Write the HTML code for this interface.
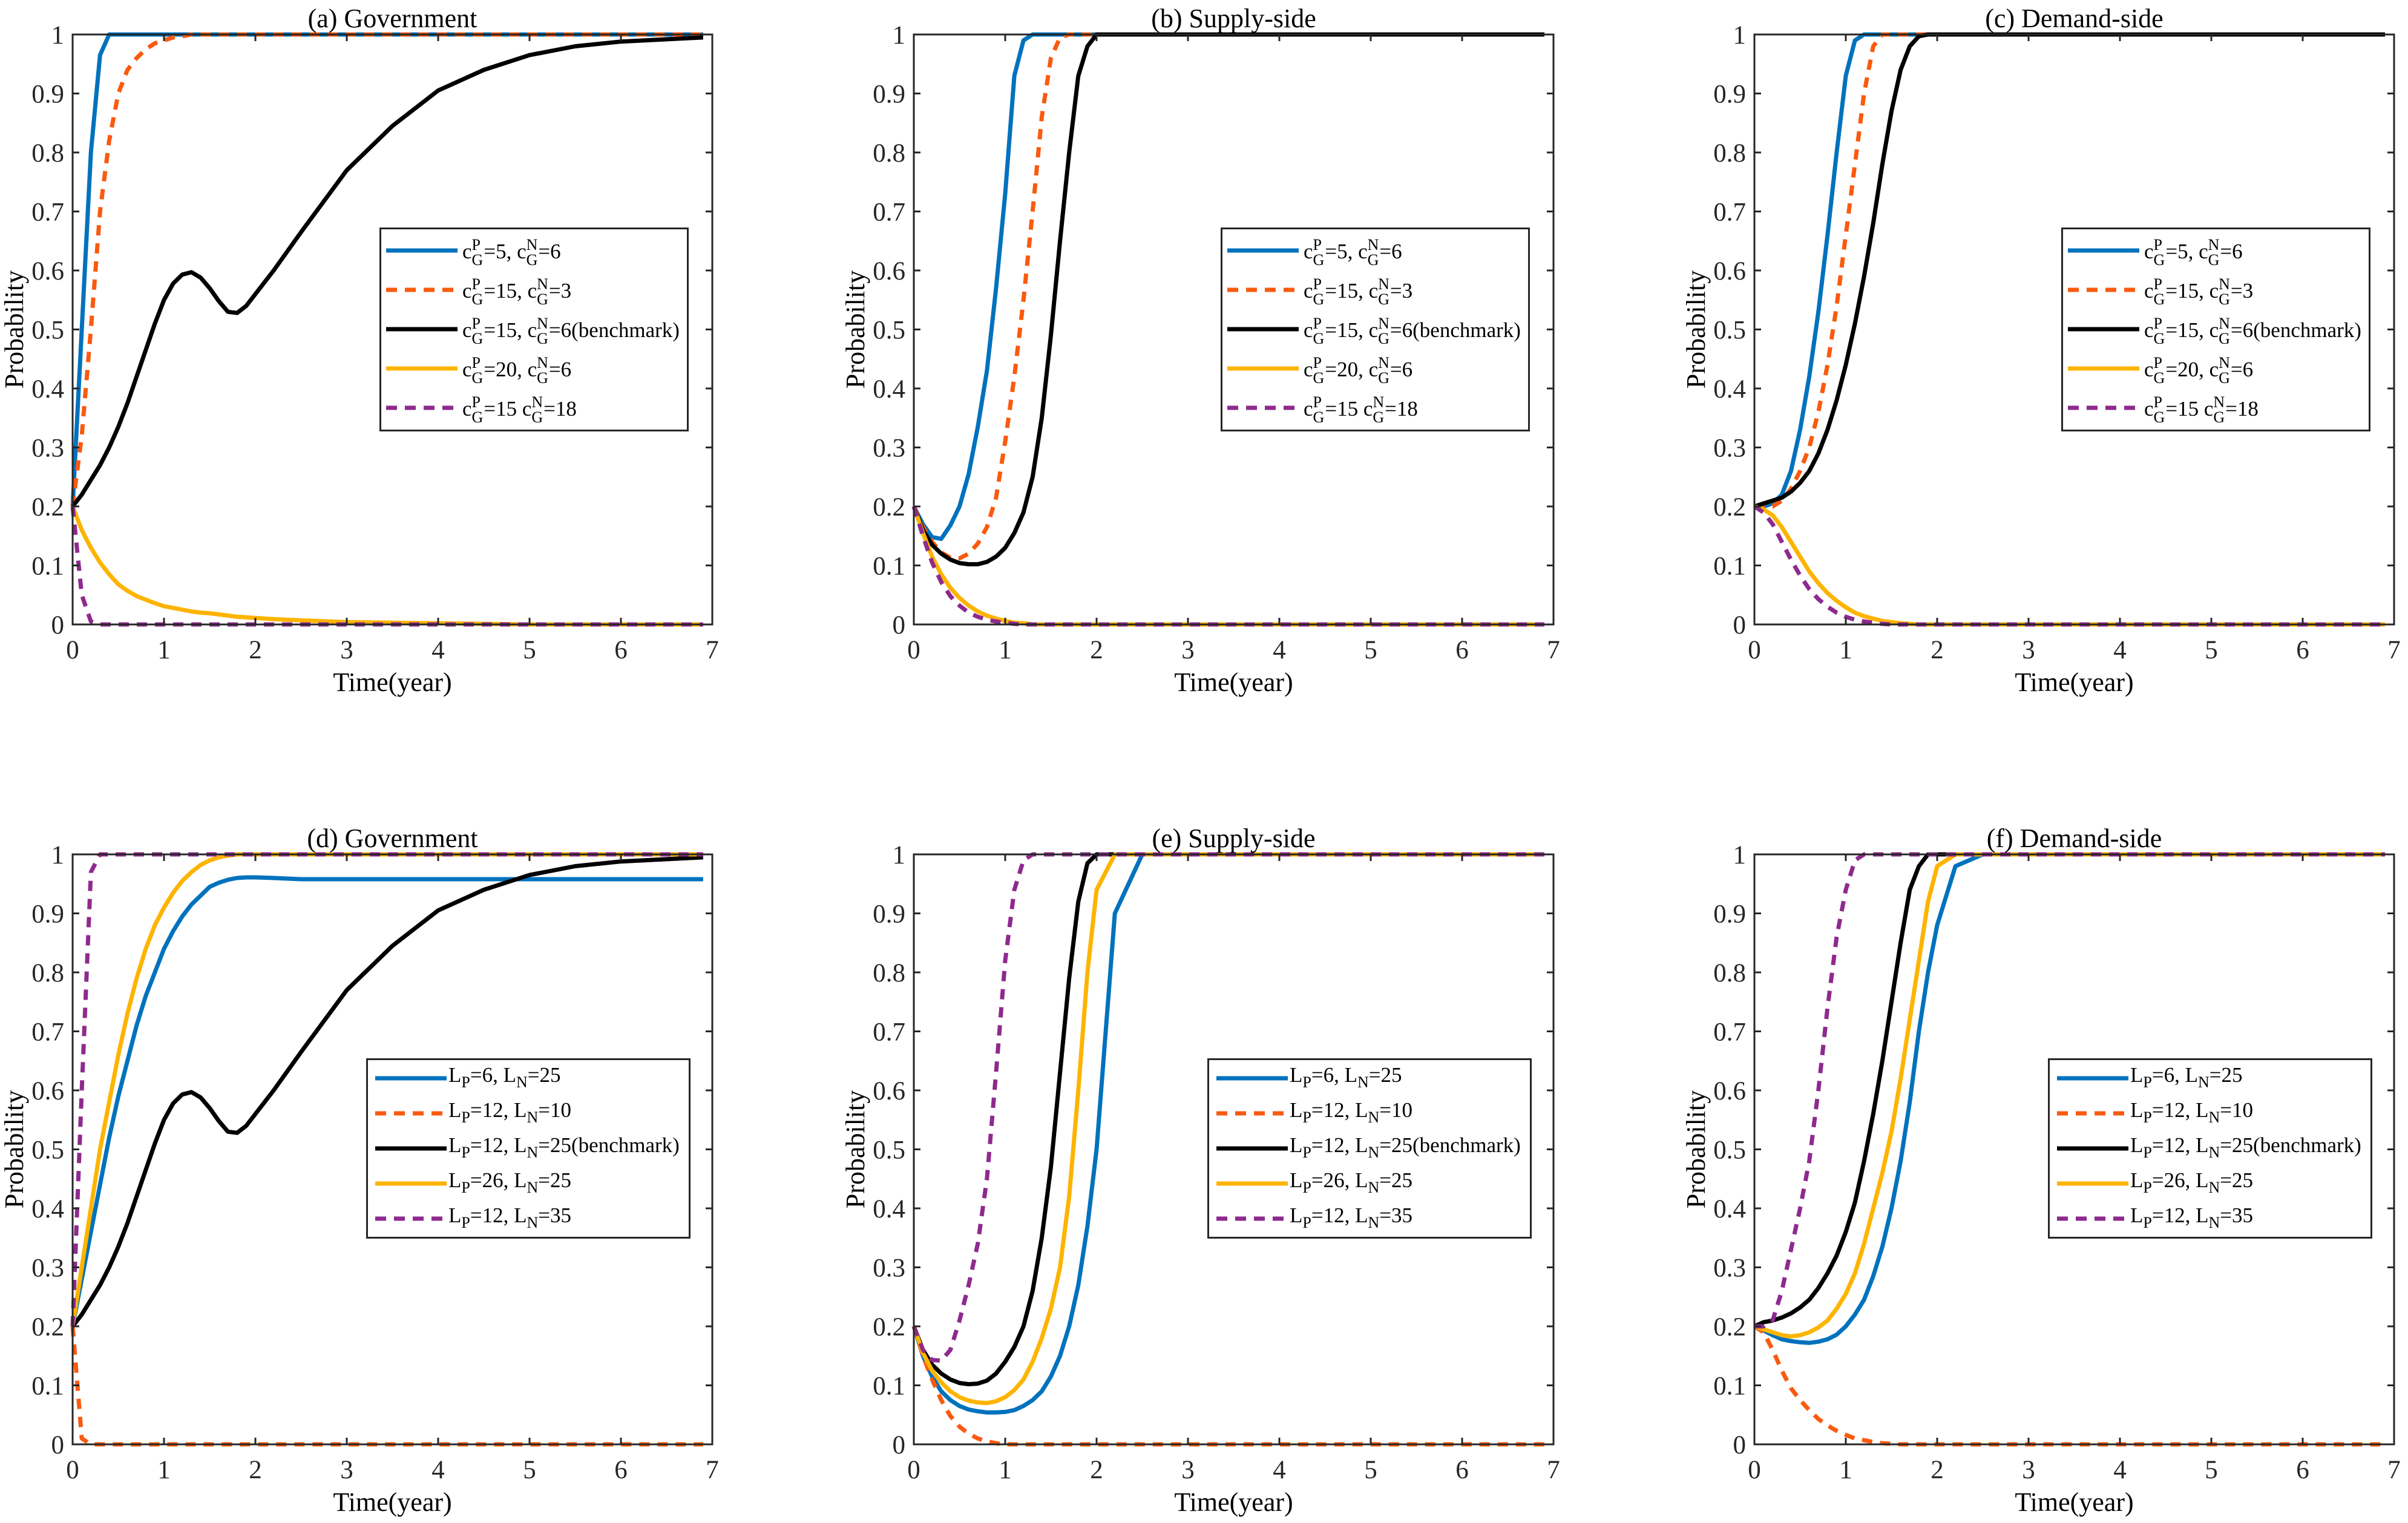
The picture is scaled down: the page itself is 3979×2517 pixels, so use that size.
<!DOCTYPE html>
<html><head><meta charset="utf-8">
<style>
html,body{margin:0;padding:0;background:#fff;}
#wrap{position:relative;width:3979px;height:2517px;overflow:hidden;font-family:"Liberation Serif",serif;color:#000;}
svg{position:absolute;left:0;top:0;}
.leg{position:absolute;border:3px solid #262626;background:#fff;box-sizing:border-box;}
.row{position:absolute;left:0;height:0;}
.row svg{position:absolute;left:0;top:-10px;}
.lt{position:absolute;white-space:nowrap;font-size:35px;line-height:1;}
.st{display:inline-block;vertical-align:middle;line-height:1;font-size:26px;text-align:left;margin:0 1px 0 0;position:relative;top:-2px;}
.st span{display:block;height:25px;}
.sb{font-size:26px;position:relative;top:9px;}
</style></head>
<body>
<div id="wrap">
<svg id="plot" width="3979" height="2517"></svg>
</div>
<script>
const T = [0,.1,.2,.3,.4,.5,.6,.7,.8,.9,1,1.1,1.2,1.3,1.4,1.5,1.6,1.7,1.8,1.9,2,2.2,2.5,3,3.5,4,4.5,5,5.5,6,6.9];
const xTicks = [0,1,2,3,4,5,6,7];
const yTicks = [0,0.1,0.2,0.3,0.4,0.5,0.6,0.7,0.8,0.9,1];
const yTickLabels = ["0","0.1","0.2","0.3","0.4","0.5","0.6","0.7","0.8","0.9","1"];
const panelTitles = ["(a) Government","(b) Supply-side","(c) Demand-side","(d) Government","(e) Supply-side","(f) Demand-side"];
const legendTop = [["5","6"],["15","3"],["15","6(benchmark)"],["20","6"],["15","18"]];
const legendBottom = [["6","25"],["12","10"],["12","25(benchmark)"],["26","25"],["12","35"]];

// (a) Government
const aBlue   = [.2,.5,.8,.965,1,1,1,1,1,1, 1,1,1,1,1,1,1,1,1,1, 1,1,1,1,1,1,1,1,1,1,1];
const aOrange = [.2,.32,.5,.7,.82,.9,.94,.96,.975,.985, .99,.995,.997,1,1,1,1,1,1,1, 1,1,1,1,1,1,1,1,1,1,1];
const aBlack  = [.2,.22,.245,.27,.3,.335,.375,.42,.465,.51, .55,.578,.593,.597,.588,.57,.548,.53,.528,.54, .56,.6,.665,.77,.845,.905,.94,.965,.98,.988,.995];
const aYellow = [.2,.16,.13,.105,.085,.068,.057,.048,.042,.036, .031,.028,.025,.022,.02,.019,.017,.015,.013,.012, .011,.009,.007,.004,.003,.002,.001,0,0,0,0];
const aPurple = [.2,.05,.005,0,0,0,0,0,0,0, 0,0,0,0,0,0,0,0,0,0, 0,0,0,0,0,0,0,0,0,0,0];
// (b) Supply-side
const bBlue   = [.2,.17,.148,.145,.168,.2,.255,.335,.43,.57, .73,.93,.99,1,1,1,1,1,1,1, 1,1,1,1,1,1,1,1,1,1,1];
const bOrange = [.2,.165,.14,.122,.113,.112,.12,.137,.165,.215, .31,.42,.55,.7,.86,.96,.995,1,1,1, 1,1,1,1,1,1,1,1,1,1,1];
const bBlack  = [.2,.16,.135,.12,.11,.104,.102,.102,.106,.115, .13,.155,.19,.25,.35,.49,.65,.8,.93,.98, 1,1,1,1,1,1,1,1,1,1,1];
const bYellow = [.2,.155,.115,.085,.062,.045,.032,.022,.015,.01, .006,.003,.002,0,0,0,0,0,0,0, 0,0,0,0,0,0,0,0,0,0,0];
const bPurple = [.2,.15,.105,.072,.048,.032,.02,.013,.008,.005, .003,.001,0,0,0,0,0,0,0,0, 0,0,0,0,0,0,0,0,0,0,0];
// (c) Demand-side
const cBlue   = [.2,.2,.205,.22,.26,.33,.42,.53,.66,.8, .93,.99,1,1,1,1,1,1,1,1, 1,1,1,1,1,1,1,1,1,1,1];
const cOrange = [.2,.2,.2,.21,.23,.26,.3,.36,.44,.54, .66,.78,.9,.98,1,1,1,1,1,1, 1,1,1,1,1,1,1,1,1,1,1];
const cBlack  = [.2,.205,.21,.215,.225,.24,.26,.29,.33,.38, .44,.51,.59,.68,.78,.87,.94,.98,.997,1, 1,1,1,1,1,1,1,1,1,1,1];
const cYellow = [.2,.195,.185,.165,.14,.115,.09,.07,.053,.04, .029,.02,.014,.01,.006,.004,.002,.001,0,0, 0,0,0,0,0,0,0,0,0,0,0];
const cPurple = [.2,.19,.17,.14,.11,.083,.06,.043,.03,.02, .013,.008,.005,.003,.001,0,0,0,0,0, 0,0,0,0,0,0,0,0,0,0,0];
// (d) Government
const dBlue   = [.2,.28,.36,.44,.52,.59,.65,.71,.76,.8, .84,.87,.895,.915,.93,.945,.952,.957,.96,.961, .961,.96,.958,.958,.958,.958,.958,.958,.958,.958,.958];
const dOrange = [.2,.01,0,0,0,0,0,0,0,0, 0,0,0,0,0,0,0,0,0,0, 0,0,0,0,0,0,0,0,0,0,0];
const dBlack  = [.2,.22,.245,.27,.3,.335,.375,.42,.465,.51, .55,.578,.593,.597,.588,.57,.548,.53,.528,.54, .56,.6,.665,.77,.845,.905,.94,.965,.98,.988,.995];
const dYellow = [.2,.3,.4,.5,.58,.66,.73,.79,.84,.88, .91,.935,.955,.97,.982,.99,.995,.998,1,1, 1,1,1,1,1,1,1,1,1,1,1];
const dPurple = [.2,.6,.97,1,1,1,1,1,1,1, 1,1,1,1,1,1,1,1,1,1, 1,1,1,1,1,1,1,1,1,1,1];
// (e) Supply-side
const eBlue   = [.2,.15,.115,.09,.075,.065,.059,.056,.054,.054, .055,.058,.065,.075,.09,.115,.15,.2,.27,.37, .5,.9,1,1,1,1,1,1,1,1,1];
const eOrange = [.2,.15,.11,.075,.048,.03,.018,.01,.005,.002, 0,0,0,0,0,0,0,0,0,0, 0,0,0,0,0,0,0,0,0,0,0];
const eBlack  = [.2,.16,.135,.12,.11,.104,.102,.103,.108,.12, .14,.165,.2,.26,.35,.47,.63,.79,.92,.985, 1,1,1,1,1,1,1,1,1,1,1];
const eYellow = [.2,.155,.125,.105,.09,.08,.074,.071,.07,.073, .08,.092,.11,.14,.18,.23,.3,.42,.6,.8, .94,1,1,1,1,1,1,1,1,1,1];
const ePurple = [.2,.16,.143,.142,.16,.21,.27,.34,.45,.63, .82,.94,.99,1,1,1,1,1,1,1, 1,1,1,1,1,1,1,1,1,1,1];
// (f) Demand-side
const fBlue   = [.2,.193,.185,.178,.175,.173,.172,.174,.178,.186, .2,.22,.245,.285,.335,.4,.48,.58,.7,.8, .88,.98,1,1,1,1,1,1,1,1,1];
const fOrange = [.2,.19,.16,.125,.095,.075,.058,.043,.032,.023, .016,.01,.007,.004,.002,.001,0,0,0,0, 0,0,0,0,0,0,0,0,0,0,0];
const fBlack  = [.2,.207,.21,.215,.222,.232,.245,.265,.29,.32, .36,.41,.48,.56,.65,.75,.85,.94,.98,1, 1,1,1,1,1,1,1,1,1,1,1];
const fYellow = [.2,.195,.19,.185,.183,.185,.19,.198,.21,.23, .255,.29,.34,.4,.46,.53,.62,.72,.82,.92, .98,1,1,1,1,1,1,1,1,1,1];
const fPurple = [.2,.2,.21,.26,.33,.4,.48,.6,.74,.86, .94,.99,1,1,1,1,1,1,1,1, 1,1,1,1,1,1,1,1,1,1,1];

const panelSeries = [
  [aBlue,aOrange,aBlack,aYellow,aPurple],
  [bBlue,bOrange,bBlack,bYellow,bPurple],
  [cBlue,cOrange,cBlack,cYellow,cPurple],
  [dBlue,dOrange,dBlack,dYellow,dPurple],
  [eBlue,eOrange,eBlack,eYellow,ePurple],
  [fBlue,fOrange,fBlack,fYellow,fPurple]
];
const seriesNames = ["blue","orange","black","yellow","purple"];
const COLORS = ["#0072BD","#FA5A0F","#000000","#FDB400","#8E2A8E"];
const DASHED = [false,true,false,false,true];

const NS = "http://www.w3.org/2000/svg";
const svg = document.getElementById("plot");
const wrap = document.getElementById("wrap");
const LEFTS = [120,1510,2899], TOPS = [57,1412], W = 1057, H = 975;
const AX = "#262626";

function mk(tag, attrs, parent){
  const e = document.createElementNS(NS, tag);
  for (const k in attrs) e.setAttribute(k, attrs[k]);
  (parent||svg).appendChild(e);
  return e;
}

for (let p = 0; p < 6; p++) {
  const L = LEFTS[p % 3], Tp = TOPS[Math.floor(p / 3)];
  const xs = v => L + v / 7 * W;
  const ys = v => Tp + H - v * H;
  const g = mk("g", {});
  
  

  panelSeries[p].forEach((vals, s) => {
    const pts = T.map((t, i) => xs(t).toFixed(1) + "," + ys(vals[i]).toFixed(1)).join(" ");
    const pl = mk("polyline", {points: pts, fill: "none", stroke: COLORS[s], "stroke-width": 7,
      "stroke-linejoin": "round", "stroke-dasharray": DASHED[s] ? "17 13" : "none"}, g);
    
    
  });

  const box = mk("rect", {x: L, y: Tp, width: W, height: H, fill: "none", stroke: AX, "stroke-width": 3}, g);
  
  

  xTicks.forEach(v => {
    const x = xs(v);
    mk("line", {x1: x, y1: Tp + H, x2: x, y2: Tp + H - 11, stroke: AX, "stroke-width": 3}, g);
    mk("line", {x1: x, y1: Tp, x2: x, y2: Tp + 11, stroke: AX, "stroke-width": 3}, g);
    const t = mk("text", {x: x, y: Tp + H + 56, "text-anchor": "middle", "font-size": 43, fill: AX, "font-family": "Liberation Serif, serif"}, g);
    t.textContent = String(v);
    
    
  });
  yTicks.forEach((v, i) => {
    const y = ys(v);
    mk("line", {x1: L, y1: y, x2: L + 11, y2: y, stroke: AX, "stroke-width": 3}, g);
    mk("line", {x1: L + W, y1: y, x2: L + W - 11, y2: y, stroke: AX, "stroke-width": 3}, g);
    const t = mk("text", {x: L - 14, y: y + 15, "text-anchor": "end", "font-size": 43, fill: AX, "font-family": "Liberation Serif, serif"}, g);
    t.textContent = yTickLabels[i];
    
    
  });
  const tt = mk("text", {x: L + W / 2, y: Tp - 12, "text-anchor": "middle", "font-size": 44, fill: "#000", "font-family": "Liberation Serif, serif"}, g);
  tt.textContent = panelTitles[p];
  
  
  const xl = mk("text", {x: L + W / 2, y: Tp + H + 110, "text-anchor": "middle", "font-size": 44, fill: "#000", "font-family": "Liberation Serif, serif"}, g);
  xl.textContent = "Time(year)";
  
  
  const yl = mk("text", {x: 0, y: 0, "text-anchor": "middle", "font-size": 44, fill: "#000", "font-family": "Liberation Serif, serif",
    transform: "translate(" + (L - 82) + "," + (Tp + H / 2) + ") rotate(-90)"}, g);
  yl.textContent = "Probability";
  
  

  const top = p < 3;
  const leg = document.createElement("div");
  leg.className = "leg";
  
  
  const lw = top ? 511 : 536, lh = top ? 337 : 298;
  leg.style.left = (L + (top ? 507 : 485)) + "px";
  leg.style.top = (Tp + (top ? 319 : 337)) + "px";
  leg.style.width = lw + "px";
  leg.style.height = lh + "px";
  const first = top ? 38 : 33, step = top ? 65 : 58;
  for (let s = 0; s < 5; s++) {
    const row = document.createElement("div");
    row.className = "row";
    
    
    row.style.top = (first + s * step - 3) + "px";
    const x0 = top ? 8 : 12;
    row.innerHTML = '<svg width="140" height="20"><line x1="' + x0 + '" y1="10" x2="' + (x0 + 118) + '" y2="10" stroke="' + COLORS[s] +
      '" stroke-width="7" stroke-dasharray="' + (DASHED[s] ? "18 13" : "none") + '"/></svg>';
    const tx = document.createElement("div");
    tx.className = "lt";
    tx.style.left = (top ? 134 : 133) + "px";
    if (top) {
      tx.style.top = "-20px";
      const a = legendTop[s];
      const sep = s === 4 ? " " : ", ";
      tx.innerHTML = 'c<span class="st"><span>P</span><span>G</span></span>=' + a[0] + sep +
        'c<span class="st"><span>N</span><span>G</span></span>=' + a[1];
    } else {
      tx.style.top = "-23px";
      const a = legendBottom[s];
      tx.innerHTML = 'L<span class="sb">P</span>=' + a[0] + ', L<span class="sb">N</span>=' + a[1];
    }
    row.appendChild(tx);
    leg.appendChild(row);
  }
  wrap.appendChild(leg);
}
</script>
</body></html>
